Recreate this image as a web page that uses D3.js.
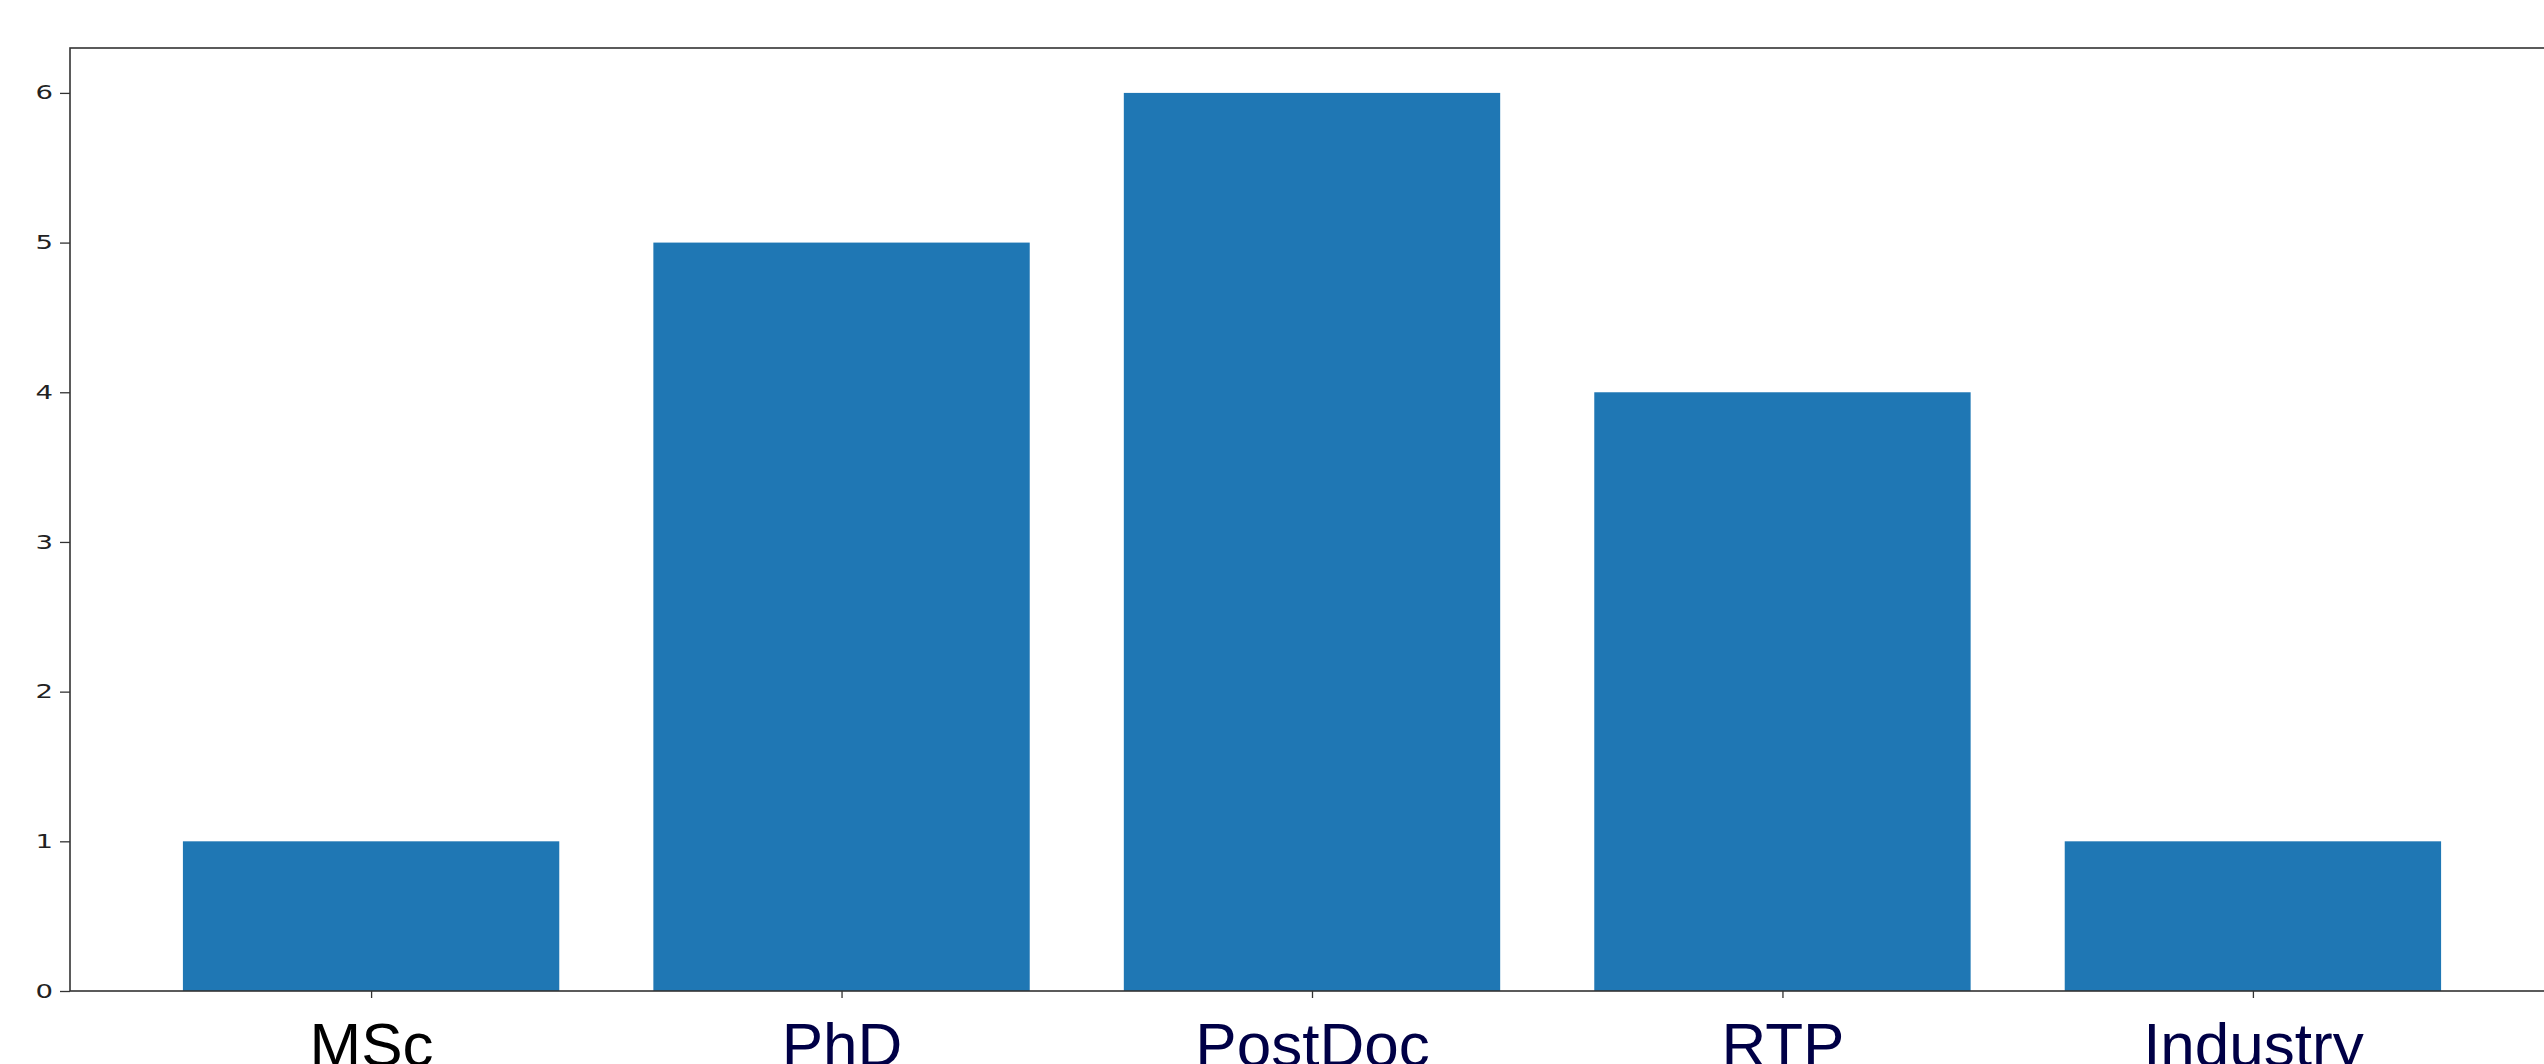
<!DOCTYPE html>
<html>
<head>
<meta charset="utf-8">
<script src="https://cdn.jsdelivr.net/npm/d3@7"></script>
<style>
  html, body { margin: 0; padding: 0; background: #fff; overflow: hidden; }
  svg { display: block; }
</style>
</head>
<body>
<svg id="chart" width="2544" height="1064"></svg>
<script>
const categories = ["MSc", "PhD", "PostDoc", "RTP", "Industry"];
const values = [1, 5, 6, 4, 1];
const yTicks = [0, 1, 2, 3, 4, 5, 6];
const labelColors = ["#000000", "#000046", "#000046", "#000046", "#000046"];

const W = 2544, H = 1064;
const mLeft = 70, mTop = 48, mBottom = 991, mRight = 2554;

const svg = d3.select("#chart");

// x: matplotlib-like linear positions with 0.8 bar width and 5% margins
const xMin = -0.4 - 0.05 * (categories.length - 1 + 0.8);
const xMax = categories.length - 1 + 0.4 + 0.05 * (categories.length - 1 + 0.8);
const x = d3.scaleLinear().domain([xMin, xMax]).range([mLeft, mRight]);
const yMaxVal = d3.max(values) * 1.05;
const y = d3.scaleLinear().domain([0, yMaxVal]).range([mBottom, mTop]);

// bars
svg.append("g").selectAll("rect").data(values).join("rect")
  .attr("x", (d, i) => x(i - 0.4))
  .attr("width", (d, i) => x(i + 0.4) - x(i - 0.4))
  .attr("y", d => y(d))
  .attr("height", d => y(0) - y(d))
  .attr("fill", "#1f77b4");

// spines
svg.append("rect")
  .attr("x", mLeft).attr("y", mTop)
  .attr("width", mRight - mLeft).attr("height", mBottom - mTop)
  .attr("fill", "none").attr("stroke", "#333").attr("stroke-width", 1.6);

// y axis
const yAxis = d3.axisLeft(y).tickValues(yTicks).tickSize(10).tickPadding(7).tickFormat(d3.format("d"));
const gy = svg.append("g").attr("transform", `translate(${mLeft},0)`).call(yAxis);
gy.select(".domain").remove();
gy.selectAll(".tick line").attr("stroke", "#333").attr("stroke-width", 1.3);
gy.selectAll(".tick text")
  .attr("fill", "#222")
  .style("font-family", "'DejaVu Sans', sans-serif")
  .style("font-size", "19px")
  .each(function() {
    const t = d3.select(this);
    const xx = +t.attr("x");
    t.attr("x", null)
     .attr("transform", `translate(${xx},0) scale(1.45,1)`);
  });

// x axis
const xAxis = d3.axisBottom(x).tickValues(d3.range(categories.length)).tickSize(7).tickFormat(i => categories[i]);
const gx = svg.append("g").attr("transform", `translate(0,${mBottom})`).call(xAxis);
gx.select(".domain").remove();
gx.selectAll(".tick line").attr("stroke", "#333").attr("stroke-width", 1.3);
gx.selectAll(".tick text")
  .attr("y", 75)
  .attr("dy", null)
  .attr("fill", (d, i) => labelColors[i])
  .style("font-family", "'Liberation Sans', Arial, sans-serif")
  .style("font-size", "62px");
</script>
</body>
</html>
